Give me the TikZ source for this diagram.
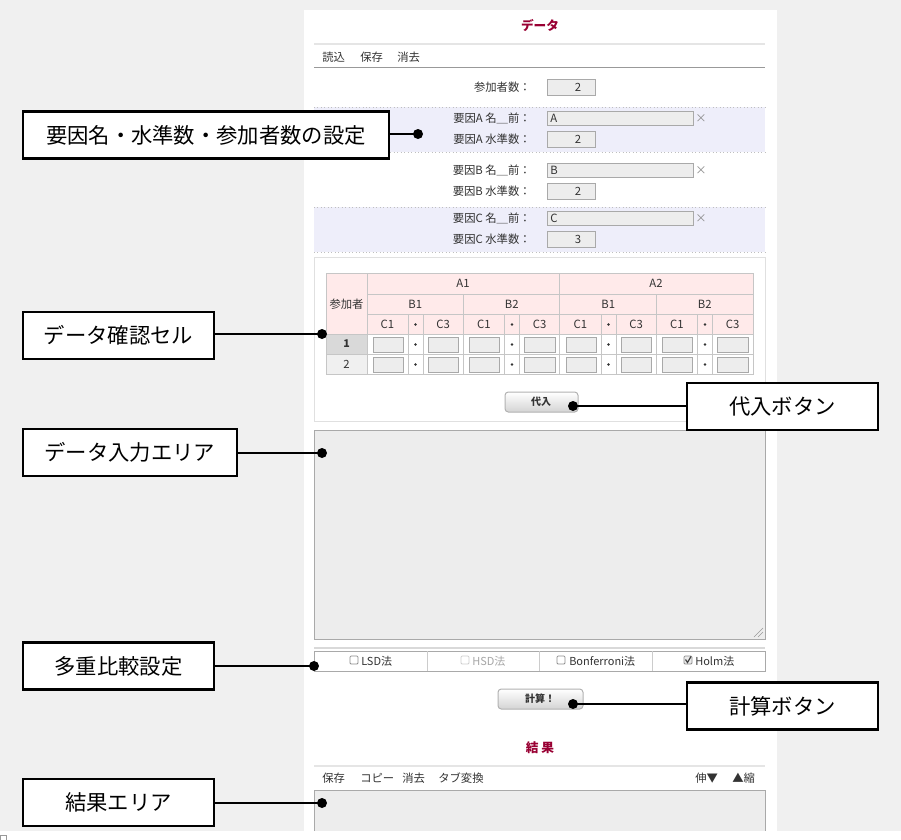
\documentclass[tikz,border=0pt]{standalone}
\usepackage{fontspec}
\setmainfont{Noto Sans CJK JP}
\usetikzlibrary{calc}
\definecolor{bgg}{HTML}{F0F0F0}
\definecolor{lav}{HTML}{EEEEFA}
\definecolor{inb}{HTML}{EDEDED}
\definecolor{inbd}{HTML}{A9A9A9}
\definecolor{pinkh}{HTML}{FFEAEA}
\definecolor{gridc}{HTML}{C6C6C6}
\definecolor{ttl}{HTML}{990033}
\definecolor{txt}{HTML}{333333}
\tikzset{
  ui/.style={font=\fontsize{8.5}{10}\selectfont, text=txt, inner sep=0pt},
  uib/.style={ui, font=\fontsize{8}{10}\selectfont\bfseries},
  ttlnode/.style={font=\fontsize{9.5}{11}\selectfont\bfseries, text=ttl, inner sep=0pt},
  inbox/.style={draw=inbd, fill=inb, line width=0.75pt},
  callout/.style={draw=black, fill=white, line width=1.6pt, inner sep=0pt,
    minimum height=35.25pt, font=\fontsize{16}{18}\selectfont},
  conn/.style={draw=black, line width=1.5pt},
  btn/.style={draw=black!30, rounded corners=2.5pt, line width=0.75pt, top color=white, bottom color=black!17},
  chk/.style={draw=black!45, fill=white, line width=0.6pt, rounded corners=0.8pt},
}
\begin{document}
\begin{tikzpicture}[x=0.75pt,y=-0.75pt]
\useasboundingbox (0,0) rectangle (901,840);
\fill[bgg] (0,0) rectangle (901,831);
\fill[white] (304,10) rectangle (777,831);
\draw[black!40, line width=0.5pt] (0,835) rectangle (6,840);
% title and menu
\node[ttlnode] (ttl1) at (540,25) {データ};
\draw[black!10, line width=1.5pt] (314,44) -- (765,44);
\node[ui, anchor=west] (m1) at (322,57) {読込};
\node[ui, anchor=west] (m2) at (360,57) {保存};
\node[ui, anchor=west] (m3) at (397,57) {消去};
\draw[black!40, line width=0.75pt] (314,67) -- (765,67);
% participants
\node[ui, anchor=east] (lp) at (531,87) {参加者数：};
\draw[inbox] (547,79) rectangle (595,95);
\node[ui] (vp) at (578,87) {2};
% bands
\fill[lav] (314,107) rectangle (765,152);
\fill[lav] (314,207) rectangle (765,252);
\draw[black!25, dotted, line width=0.6pt] (314,107) -- (765,107) (314,152) -- (765,152) (314,207) -- (765,207) (314,252) -- (765,252);
% factors
\foreach \f/\nm/\lv/\yy in {A/A/2/118, B/B/2/170, C/C/3/218} {
  \node[ui, anchor=east] at (531,\yy) {要因\f\ 名＿前：};
  \draw[inbox] (547,\yy-7) rectangle (693,\yy+7);
  \node[ui, anchor=west] at (550,\yy) {\nm};
  \node[ui, text=black!45] at (701,\yy+1) {×};
  \node[ui, anchor=east] at (531,\yy+21.5) {要因\f\ 水準数：};
  \draw[inbox] (547,\yy+13.5) rectangle (595,\yy+29.5);
  \node[ui] at (578,\yy+21.5) {\lv};
}
% table panel
\draw[black!12, line width=0.75pt] (314,257) rectangle (765,421);
\fill[pinkh] (326,273) rectangle (753,334);
\fill[black!15] (326,334) rectangle (367,354);
\fill[black!6] (326,354) rectangle (367,374);
\begin{scope}[gridc, line width=0.75pt]
\draw (326,273) rectangle (753,374);
\draw (367,294) -- (753,294) (367,314) -- (753,314) (326,334) -- (753,334) (326,354) -- (753,354);
\draw (367,273) -- (367,374) (559,273) -- (559,374) (463,294) -- (463,374) (656,294) -- (656,374);
\end{scope}
\node[ui] (pc) at (346.5,304) {参加者};
\node[ui] (a1) at (463,283.5) {A1};
\node[ui] (a2) at (656,283.5) {A2};
\foreach \g/\bl in {0/B1,1/B2,2/B1,3/B2} {
  \pgfmathsetmacro{\gx}{367+96.5*\g}
  \draw[gridc, line width=0.75pt] (\gx+41,314) -- (\gx+41,374) (\gx+56,314) -- (\gx+56,374);
  \node[ui] at (\gx+48.25,304) {\bl};
  \node[ui] at (\gx+20.5,324) {C1};
  \fill[txt] (\gx+48.5,324.5) circle[radius=1pt];
  \node[ui] at (\gx+76.25,324) {C3};
  \foreach \ry in {334,354} {
    \draw[inbox] (\gx+6,\ry+3) rectangle (\gx+36,\ry+18);
    \fill[txt] (\gx+48.5,\ry+10.5) circle[radius=1pt];
    \draw[inbox] (\gx+61,\ry+3) rectangle (\gx+91.5,\ry+18);
  }
}
\node[uib] (r1) at (346.5,344) {1};
\node[ui] (r2) at (346.5,364) {2};
% substitute button
\draw[btn] (505,392) rectangle (578,412);
\node[uib, font=\fontsize{7.5}{9}\selectfont\bfseries] (bsub) at (541,402) {代入};
% data input area
\draw[inbd, fill=inb, line width=0.75pt] (314,430) rectangle (765,639);
\draw[black!40, line width=0.5pt] (754,637) -- (763,628) (758,637) -- (763,632);
% multiple comparison
\draw[black!15, line width=1pt] (314,648) -- (765,648);
\draw[inbd, line width=0.75pt] (314,651) rectangle (765,671);
\draw[black!20, line width=0.75pt] (427,651) -- (427,671) (539,651) -- (539,671) (652,651) -- (652,671);
\draw[chk] (350,656) rectangle (358,664);
\node[ui, font=\fontsize{8.25}{9}\selectfont, anchor=west] at (361,661) {LSD法};
\draw[chk, draw=black!20] (461,656) rectangle (469,664);
\node[ui, font=\fontsize{8.25}{9}\selectfont, anchor=west, text=black!35] at (472,661) {HSD法};
\draw[chk] (557,656) rectangle (565,664);
\node[ui, font=\fontsize{8.25}{9}\selectfont, anchor=west] at (569,661) {Bonferroni法};
\draw[chk, fill=black!8] (684,656) rectangle (692,664);
\draw[black!75, line width=0.9pt] (685.5,659.5) -- (687.5,662.5) -- (691,656.5);
\node[ui, font=\fontsize{8.25}{9}\selectfont, anchor=west] at (695,661) {Holm法};
% calc button
\draw[btn] (498,689) rectangle (583,709);
\node[uib, font=\fontsize{7.5}{9}\selectfont\bfseries] (bcalc) at (540,699) {計算！};
% results
\node[ttlnode] (ttl2) at (540,748) {結 果};
\draw[black!10, line width=1.5pt] (314,766) -- (765,766);
\node[ui, anchor=west] at (322,778) {保存};
\node[ui, anchor=west] at (360,778) {コピー};
\node[ui, anchor=west] at (402,778) {消去};
\node[ui, anchor=west] at (438,778) {タブ変換};
\node[ui, anchor=west] at (695,778) {伸▼};
\node[ui, anchor=west] at (732,778) {▲縮};
\fill[inb] (314,790) rectangle (765,831);
\draw[inbd, line width=0.75pt] (314,831) -- (314,790) -- (765,790) -- (765,831);
% callouts
\node[callout, minimum width=274.5pt] (c1) at (206,135) {要因名・水準数・参加者数の設定};
\node[callout, minimum width=143.25pt] (c2) at (118.5,335.5) {データ確認セル};
\node[callout, minimum width=160.5pt] (c3) at (130,452.5) {データ入力エリア};
\node[callout, minimum width=143.25pt] (c4) at (118.5,666) {多重比較設定};
\node[callout, minimum width=143.25pt] (c5) at (118.5,802.5) {結果エリア};
\node[callout, minimum width=143.25pt] (c6) at (782.5,406.5) {代入ボタン};
\node[callout, minimum width=143.25pt] (c7) at (782.5,706) {計算ボタン};
\coordinate (d1) at (418,134);
\coordinate (d2) at (322,334);
\coordinate (d3) at (322,453);
\coordinate (d4) at (314,666);
\coordinate (d5) at (322,803);
\coordinate (d6) at (573,406);
\coordinate (d7) at (573,704);
\foreach \c/\d in {c1/d1,c2/d2,c3/d3,c4/d4,c5/d5} {
  \draw[conn] (\d -| \c.east) -- (\d);
  \fill (\d) circle[radius=3.75pt];
}
\foreach \c/\d in {c6/d6,c7/d7} {
  \draw[conn] (\d -| \c.west) -- (\d);
  \fill (\d) circle[radius=3.75pt];
}
\end{tikzpicture}
\end{document}
